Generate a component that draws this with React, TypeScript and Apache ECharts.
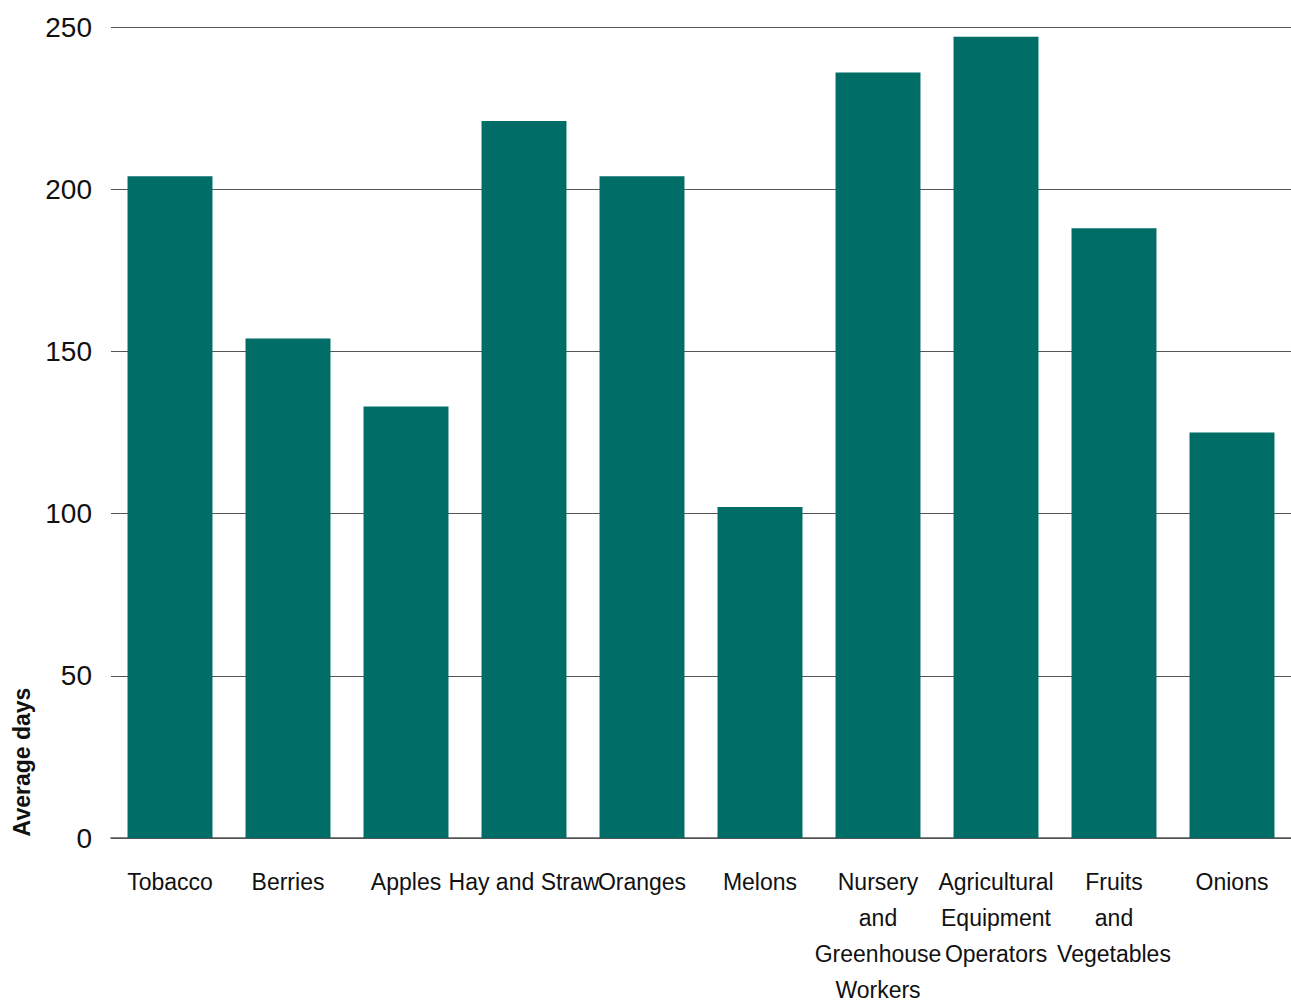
import React, { useEffect, useRef } from "react";
import * as echarts from "echarts";

const categories = [
  "Tobacco",
  "Berries",
  "Apples",
  "Hay and Straw",
  "Oranges",
  "Melons",
  "Nursery\nand\nGreenhouse\nWorkers",
  "Agricultural\nEquipment\nOperators",
  "Fruits\nand\nVegetables",
  "Onions",
];
const averageDays = [204, 154, 133, 221, 204, 102, 236, 247, 188, 125];
const yTicks = { min: 0, max: 250, interval: 50 };
const yAxisTitle = "Average days";

const FONT = "'Liberation Sans', Arial, sans-serif";

export default function App() {
  const ref = useRef<HTMLDivElement>(null);
  useEffect(() => {
    if (!ref.current) return;
    const chart = echarts.init(ref.current, null, { renderer: "svg" });
    chart.setOption({
      animation: false,
      backgroundColor: "#ffffff",
      grid: {
        left: 111,
        right: 0,
        top: 27,
        bottom: 164,
        containLabel: false,
        outerBoundsMode: "none",
      },
      xAxis: {
        type: "category",
        data: categories,
        axisLine: { show: true, lineStyle: { color: "#555555", width: 1.5 } },
        axisTick: { show: false },
        axisLabel: {
          interval: 0,
          margin: 26,
          color: "#111111",
          fontFamily: FONT,
          fontSize: 23,
          lineHeight: 36,
          align: "center",
        },
      },
      yAxis: {
        type: "value",
        min: yTicks.min,
        max: yTicks.max,
        interval: yTicks.interval,
        axisLine: { show: false },
        axisTick: { show: false },
        splitLine: { show: true, lineStyle: { color: "#555555", width: 1.2 } },
        axisLabel: {
          margin: 19,
          color: "#111111",
          fontFamily: FONT,
          fontSize: 28,
        },
      },
      graphic: [
        {
          type: "text",
          x: 22,
          y: 762,
          rotation: Math.PI / 2,
          style: {
            text: yAxisTitle,
            fontFamily: FONT,
            fontWeight: "bold",
            fontSize: 23,
            fill: "#111111",
            align: "center",
            verticalAlign: "middle",
          },
        },
      ],
      series: [
        {
          type: "bar",
          data: averageDays,
          barCategoryGap: "28%",
          itemStyle: { color: "#006d66" },
        },
      ],
    });
    return () => chart.dispose();
  }, []);
  return (
    <div
      ref={ref}
      style={{ position: "absolute", left: 0, top: 0, width: 1291, height: 1002 }}
    />
  );
}
